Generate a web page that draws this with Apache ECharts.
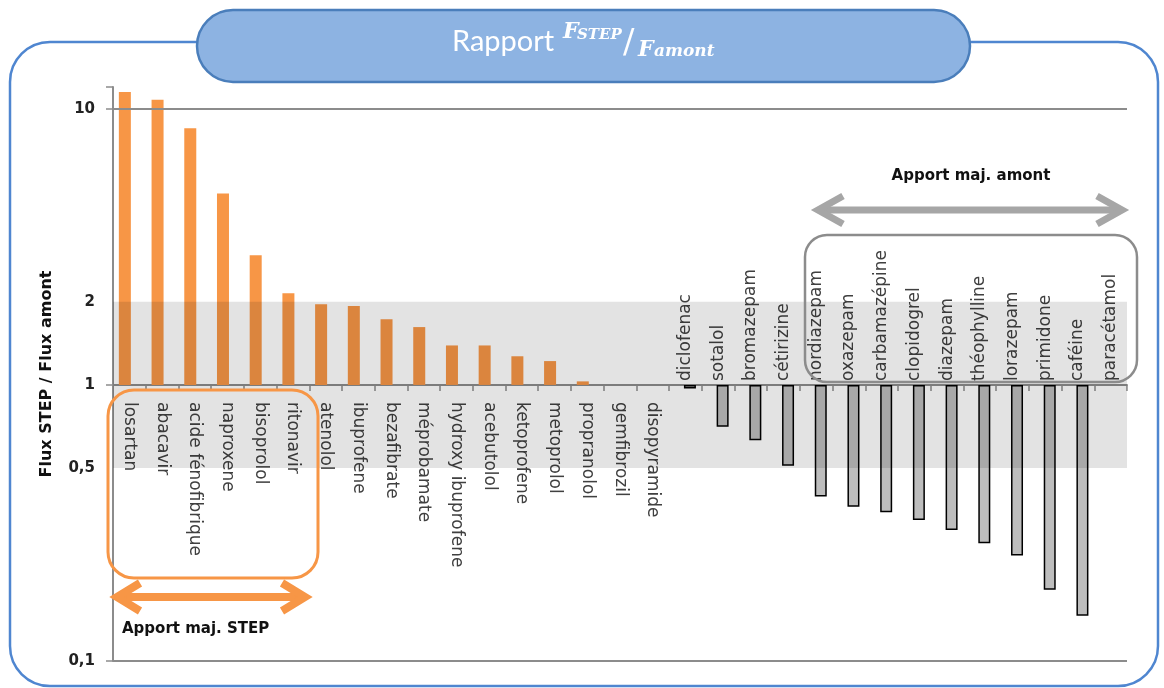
<!DOCTYPE html>
<html>
<head>
<meta charset="utf-8">
<script src="https://cdn.jsdelivr.net/npm/echarts@6/dist/echarts.min.js"></script>
<style>
  html, body { margin: 0; padding: 0; background: #fff; }
  #chart { width: 1164px; height: 688px; }
</style>
</head>
<body>
<div id="chart"></div>
<script>
// molecules, left group = major input from STEP, right group = major input upstream
var stepNames = ['losartan', 'abacavir', 'acide fénofibrique', 'naproxene', 'bisoprolol', 'ritonavir',
  'atenolol', 'ibuprofene', 'bezafibrate', 'méprobamate', 'hydroxy ibuprofene', 'acebutolol',
  'ketoprofene', 'metoprolol', 'propranolol', 'gemfibrozil', 'disopyramide'];
var amontNames = ['diclofenac', 'sotalol', 'bromazepam', 'cétirizine', 'nordiazepam', 'oxazepam',
  'carbamazépine', 'clopidogrel', 'diazepam', 'théophylline', 'lorazepam', 'primidone', 'caféine', 'paracétamol'];

// ratio Flux STEP / Flux amont
var stepRatios = [11.5, 10.8, 8.5, 4.94, 2.95, 2.15, 1.96, 1.93, 1.73, 1.62, 1.39, 1.39, 1.27, 1.22, 1.03, 1, 1];
var amontRatios = [0.97, 0.706, 0.631, 0.51, 0.394, 0.362, 0.346, 0.324, 0.298, 0.267, 0.241, 0.181, 0.146, null];

var yTickLabels = [[0.1, '0,1'], [1, '1'], [10, '10']];
var bandLimits = [0.5, 2];

var categories = stepNames.concat(amontNames);
var nStep = stepNames.length;
var orangeData = stepRatios.concat(amontNames.map(function () { return '-'; }));
var greyData = stepNames.map(function () { return '-'; }).concat(amontRatios.map(function (v) { return v == null ? '-' : v; }));

var labelFont = 'DejaVu Sans';
var axisGrey = '#8c8c8c';
var titleFont = '"DejaVu Serif"';

var chart = echarts.init(document.getElementById('chart'));

// grid: top 87, bottom 661 -> value 1 sits at about y=385, so the category axis is lifted 276px
var xOffset = -276;

var bandLabel = function (txt) {
  return { show: true, position: 'start', distance: 18, formatter: txt,
    fontFamily: labelFont, fontWeight: 'bold', fontSize: 15, color: '#222' };
};

var option = {
  backgroundColor: '#fff',
  animation: false,
  grid: { left: 113, right: 37, top: 87, bottom: 27 },
  xAxis: [
    {
      type: 'category',
      data: categories,
      position: 'bottom',
      offset: xOffset,
      axisLine: { lineStyle: { color: axisGrey, width: 2 } },
      axisTick: { show: true, length: 6, lineStyle: { color: axisGrey, width: 1.5 } },
      axisLabel: {
        interval: 0, rotate: -90, margin: 17,
        fontFamily: labelFont, fontSize: 17, color: '#404040',
        formatter: function (v, i) { return i < nStep ? v : ''; }
      }
    },
    {
      type: 'category',
      data: categories,
      position: 'bottom',
      offset: xOffset,
      axisLine: { show: false },
      axisTick: { show: false },
      axisLabel: {
        interval: 0, rotate: 90, inside: true, margin: 4,
        fontFamily: labelFont, fontSize: 17, color: '#404040',
        formatter: function (v, i) { return i >= nStep ? v : ''; }
      }
    }
  ],
  yAxis: {
    type: 'log',
    logBase: 10,
    min: 0.1,
    max: 12,
    name: 'Flux STEP / Flux amont',
    nameLocation: 'middle',
    nameGap: 58,
    nameRotate: 90,
    nameTextStyle: { fontFamily: labelFont, fontWeight: 'bold', fontSize: 16, color: '#111' },
    axisLine: { show: true, lineStyle: { color: axisGrey, width: 2 } },
    axisTick: { show: true, length: 7, lineStyle: { color: axisGrey, width: 1.5 } },
    splitLine: { show: false },
    axisLabel: {
      margin: 18, fontFamily: labelFont, fontWeight: 'bold', fontSize: 15, color: '#222',
      formatter: function (v) {
        for (var k = 0; k < yTickLabels.length; k++) {
          if (Math.abs(v - yTickLabels[k][0]) < 1e-9) return yTickLabels[k][1];
        }
        return '';
      }
    }
  },
  series: [
    {
      name: 'STEP',
      type: 'bar',
      data: orangeData,
      barWidth: 12,
      barGap: '-25%',
      itemStyle: { color: '#f79646' }
    },
    {
      name: 'amont',
      type: 'bar',
      data: greyData,
      barWidth: 12,
      itemStyle: { color: '#bdbdbd', borderColor: '#000', borderWidth: 1.5 }
    },
    {
      name: 'repères',
      type: 'line',
      data: [],
      silent: true,
      markArea: {
        silent: true,
        z: 6,
        itemStyle: { color: 'rgba(0,0,0,0.11)' },
        data: [[{ yAxis: bandLimits[0] }, { yAxis: bandLimits[1] }]]
      },
      markLine: {
        silent: true,
        symbol: 'none',
        animation: false,
        data: [
          { yAxis: 10, lineStyle: { color: axisGrey, width: 2, type: 'solid' }, label: { show: false } },
          { yAxis: 0.1, lineStyle: { color: axisGrey, width: 2, type: 'solid' }, label: { show: false } },
          { yAxis: bandLimits[1], lineStyle: { color: 'rgba(0,0,0,0)', width: 1 }, label: bandLabel('2') },
          { yAxis: bandLimits[0], lineStyle: { color: 'rgba(0,0,0,0)', width: 1 }, label: bandLabel('0,5') }
        ]
      }
    }
  ],
  graphic: [
    // outer frame
    { type: 'rect', silent: true, z: -10, shape: { x: 10, y: 42, width: 1148, height: 644, r: 40 },
      style: { fill: 'none', stroke: '#4f86d0', lineWidth: 2.5 } },
    // title pill
    { type: 'rect', silent: true, shape: { x: 197, y: 10, width: 773, height: 72, r: 36 },
      style: { fill: '#8db3e2', stroke: '#4a7ebb', lineWidth: 2.5 } },
    { type: 'text', silent: true, x: 452, y: 42,
      style: { text: 'Rapport', fill: '#fff', font: '29px Lato', verticalAlign: 'middle' } },
    { type: 'text', silent: true, x: 563, y: 32,
      style: { text: 'F', fill: '#fff', font: 'italic bold 22px ' + titleFont, verticalAlign: 'middle' } },
    { type: 'text', silent: true, x: 577, y: 35,
      style: { text: 'STEP', fill: '#fff', font: 'italic bold 15px ' + titleFont, verticalAlign: 'middle' } },
    { type: 'text', silent: true, x: 623, y: 44,
      style: { text: '/', fill: '#fff', font: '34px ' + titleFont, verticalAlign: 'middle' } },
    { type: 'text', silent: true, x: 638, y: 50,
      style: { text: 'F', fill: '#fff', font: 'italic bold 22px ' + titleFont, verticalAlign: 'middle' } },
    { type: 'text', silent: true, x: 654, y: 52,
      style: { text: 'amont', fill: '#fff', font: 'italic bold 17px ' + titleFont, verticalAlign: 'middle' } },

    // STEP annotation (orange)
    { type: 'rect', silent: true, z: 10, shape: { x: 108, y: 390, width: 210, height: 188, r: 26 },
      style: { fill: 'none', stroke: '#f79646', lineWidth: 3 } },
    { type: 'polyline', silent: true, z: 10, shape: { points: [[120, 597], [302, 597]] },
      style: { stroke: '#f79646', lineWidth: 8 } },
    { type: 'polyline', silent: true, z: 10, shape: { points: [[140, 583], [117, 597], [140, 611]] },
      style: { stroke: '#f79646', lineWidth: 8, fill: 'none' } },
    { type: 'polyline', silent: true, z: 10, shape: { points: [[282, 583], [305, 597], [282, 611]] },
      style: { stroke: '#f79646', lineWidth: 8, fill: 'none' } },
    { type: 'text', silent: true, z: 10, x: 122, y: 629,
      style: { text: 'Apport maj. STEP', fill: '#111', font: 'bold 15px "DejaVu Sans"', verticalAlign: 'middle' } },

    // upstream annotation (grey)
    { type: 'rect', silent: true, z: 10, shape: { x: 805, y: 235, width: 332, height: 147, r: 22 },
      style: { fill: 'none', stroke: '#8c8c8c', lineWidth: 2.5 } },
    { type: 'polyline', silent: true, z: 10, shape: { points: [[822, 210], [1118, 210]] },
      style: { stroke: '#a6a6a6', lineWidth: 7 } },
    { type: 'polyline', silent: true, z: 10, shape: { points: [[843, 196], [818, 210], [843, 224]] },
      style: { stroke: '#a6a6a6', lineWidth: 7, fill: 'none' } },
    { type: 'polyline', silent: true, z: 10, shape: { points: [[1097, 196], [1122, 210], [1097, 224]] },
      style: { stroke: '#a6a6a6', lineWidth: 7, fill: 'none' } },
    { type: 'text', silent: true, z: 10, x: 971, y: 176,
      style: { text: 'Apport maj. amont', fill: '#111', font: 'bold 15px "DejaVu Sans"', align: 'center', verticalAlign: 'middle' } }
  ]
};

chart.setOption(option);
</script>
</body>
</html>
